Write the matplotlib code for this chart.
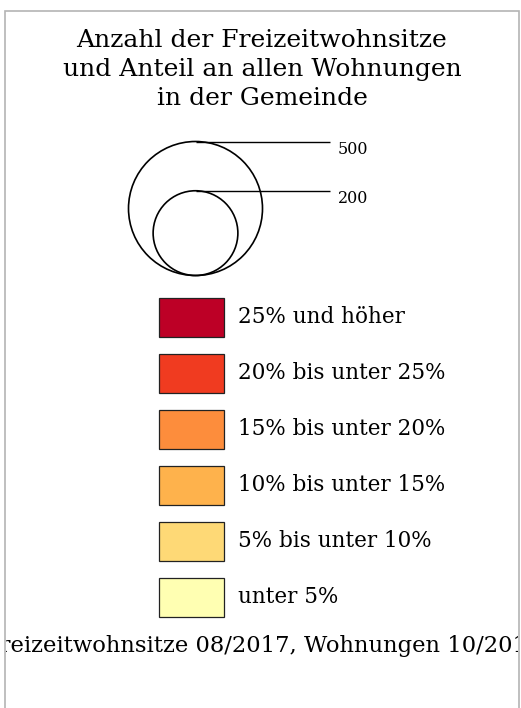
import numpy as np
import matplotlib.pyplot as plt
from matplotlib.patches import Circle, Rectangle
from matplotlib.transforms import Bbox

plt.rcParams['font.family'] = ['DejaVu Serif']

# legend content
title_lines = ["Anzahl der Freizeitwohnsitze",
               "und Anteil an allen Wohnungen",
               "in der Gemeinde"]
size_values = [500, 200]
class_labels = ["25% und höher", "20% bis unter 25%", "15% bis unter 20%",
                "10% bis unter 15%", "5% bis unter 10%", "unter 5%"]
class_colors = ["#bd0026", "#f03b20", "#fd8d3c", "#feb24c", "#fed976", "#ffffb2"]
source_text = "Freizeitwohnsitze 08/2017, Wohnungen 10/2017"

W, H = 521, 708
fig = plt.figure(figsize=(W / 100, H / 100), dpi=100)
ax = fig.add_axes([0, 0, 1, 1])
ax.set_xlim(0, W)
ax.set_ylim(H, 0)
ax.axis('off')

# outer frame (bottom runs off the image)
frame = Rectangle((5, 11), 514, 720, facecolor='white', edgecolor='#b4b4b4', lw=1.2)
ax.add_patch(frame)

# title
for i, line in enumerate(title_lines):
    ax.text(262, 47 + i * 29, line, ha='center', va='baseline', fontsize=18)

# proportional circles, area scaled
cx, cbottom = 195.5, 275.5
rmax = 67.0
for v in size_values:
    r = rmax * np.sqrt(v / max(size_values))
    ax.add_patch(Circle((cx, cbottom - r), r, fill=False, edgecolor='black', lw=1.2))
    ytop = cbottom - 2 * r
    ax.plot([cx, 330], [ytop, ytop], color='black', lw=1.0, solid_capstyle='butt')
    ax.text(338, ytop + 12, str(v), ha='left', va='baseline', fontsize=11.5)

# colour classes
for i, (lab, col) in enumerate(zip(class_labels, class_colors)):
    top = 298 + i * 56
    ax.add_patch(Rectangle((159, top), 65, 39, facecolor=col, edgecolor='#222222', lw=0.9))
    ax.text(238, top + 25, lab, ha='left', va='baseline', fontsize=15.5)

# source line, cut off by the frame like in the original
t = ax.text(263, 652, source_text, ha='center', va='baseline', fontsize=16.25)
t.set_clip_on(True)
t.set_clip_path(None)
t.set_clip_box(Bbox.from_extents(6, 0, 518, H))

fig.savefig('out.png', dpi=100)
